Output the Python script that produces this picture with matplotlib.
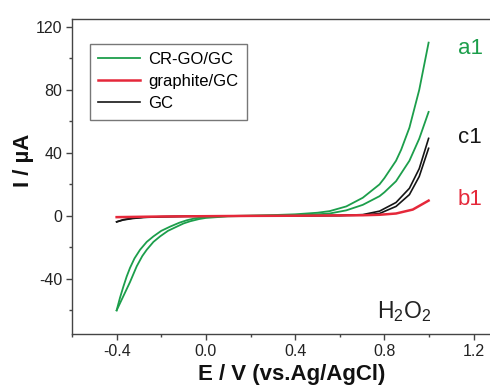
import matplotlib
matplotlib.use('Agg')
import matplotlib.pyplot as plt

plt.rcParams['font.family'] = ['Liberation Sans', 'DejaVu Sans']
plt.rcParams['mathtext.fontset'] = 'custom'
plt.rcParams['mathtext.rm'] = 'Liberation Sans'
plt.rcParams['mathtext.it'] = 'Liberation Sans:italic'
plt.rcParams['mathtext.bf'] = 'Liberation Sans:bold'

# CR-GO/GC, two sweeps (E in V, I in uA)
green_E1 = [-0.40, -0.385, -0.37, -0.355, -0.34, -0.32, -0.295, -0.265, -0.235, -0.20, -0.16,
            -0.12, -0.086, -0.05, 0.0, 0.1, 0.2, 0.3, 0.4, 0.5, 0.554, 0.629, 0.703, 0.778,
            0.80, 0.852, 0.875, 0.912, 0.956, 0.998]
green_I1 = [-60.0, -52.0, -45.0, -38.5, -33.0, -27.0, -21.5, -16.5, -13.0, -9.5, -6.8,
            -4.4, -2.8, -1.6, -0.7, -0.1, 0.2, 0.5, 1.0, 2.0, 3.0, 6.0, 11.5, 20.0,
            24.0, 35.0, 42.0, 56.0, 80.0, 110.0]
green_E2 = [-0.40, -0.37, -0.34, -0.31, -0.285, -0.265, -0.235, -0.205, -0.17, -0.13, -0.10,
            -0.07, -0.03, 0.0, 0.1, 0.2, 0.3, 0.4, 0.5, 0.554, 0.629, 0.703, 0.778, 0.80,
            0.852, 0.912, 0.956, 0.998]
green_I2 = [-60.0, -51.0, -42.0, -32.0, -25.5, -21.5, -16.5, -13.0, -9.5, -6.8, -4.8,
            -3.4, -2.0, -1.3, -0.3, 0.0, 0.2, 0.4, 1.0, 1.5, 3.5, 7.0, 12.5, 15.0,
            22.0, 35.0, 49.0, 66.0]

# GC, two sweeps
black_E = [-0.40, -0.37, -0.33, -0.28, -0.2, -0.1, 0.0, 0.2, 0.4, 0.6, 0.703, 0.778, 0.852,
           0.912, 0.956, 0.998]
black_I1 = [-3.8, -2.6, -1.7, -1.0, -0.6, -0.3, -0.2, 0.0, 0.1, 0.3, 0.8, 3.0, 8.5,
            17.5, 30.0, 49.2]
black_I2 = [-3.8, -2.4, -1.5, -0.9, -0.5, -0.3, -0.2, 0.0, 0.1, 0.2, 0.5, 1.5, 6.0,
            13.5, 25.0, 42.9]

# graphite/GC
red_E = [-0.40, -0.3, -0.2, 0.0, 0.2, 0.4, 0.6, 0.703, 0.778, 0.852, 0.927, 0.998]
red_I = [-0.8, -0.6, -0.4, -0.2, 0.0, 0.1, 0.3, 0.4, 0.7, 1.5, 4.0, 9.7]

labels = ['CR-GO/GC', 'graphite/GC', 'GC']
green = '#1c9e4b'
red = '#e5283a'
black = '#151515'

fig = plt.figure(figsize=(4.9, 3.85), dpi=100)
ax = fig.add_axes([72 / 490, 51 / 385, 424 / 490, 315 / 385])

ax.plot(black_E, black_I1, color=black, lw=1.2)
lc, = ax.plot(black_E, black_I2, color=black, lw=1.2)
la, = ax.plot(green_E1, green_I1, color=green, lw=1.3)
ax.plot(green_E2, green_I2, color=green, lw=1.3)
lb, = ax.plot(red_E, red_I, color=red, lw=1.8)

ax.set_xlim(-0.6, 1.3)
ax.set_ylim(-75, 125)
ax.set_xticks([-0.4, 0.0, 0.4, 0.8, 1.2])
ax.set_xticks([-0.6, -0.2, 0.2, 0.6, 1.0], minor=True)
ax.set_yticks([-40, 0, 40, 80, 120])
ax.set_yticks([-60, -20, 20, 60, 100], minor=True)
ax.set_xticklabels(['-0.4', '0.0', '0.4', '0.8', '1.2'])
ax.set_yticklabels(['-40', '0', '40', '80', '120'])

for s in ['left', 'bottom', 'top', 'right']:
    ax.spines[s].set_color('#444444')
    ax.spines[s].set_linewidth(1.0)
ax.tick_params(axis='both', which='major', direction='out', length=4, width=1,
               color='#444444', labelsize=11.5, labelcolor='#222222', pad=3)
ax.tick_params(axis='both', which='minor', direction='out', length=2.5, width=1,
               color='#444444')
ax.tick_params(top=False, right=False, which='both')

ax.set_xlabel('E / V (vs.Ag/AgCl)', fontsize=16, fontweight='bold', color='#111111')
ax.set_ylabel('I / µA', fontsize=16, fontweight='bold', color='#111111')
ax.xaxis.set_label_coords(0.519, -0.094)
ax.yaxis.set_label_coords(-0.089, 0.55)

leg = ax.legend([la, lb, lc], labels, loc='upper left', bbox_to_anchor=(0.042, 0.921),
                borderaxespad=0, fontsize=12, frameon=True, fancybox=False,
                handlelength=2.5, handletextpad=0.5, labelspacing=0.42, borderpad=0.5)
leg.get_frame().set_edgecolor('#555555')
leg.get_frame().set_linewidth(1.0)

ax.text(1.128, 106.5, 'a1', color=green, fontsize=16, va='center', ha='left')
ax.text(1.128, 50, 'c1', color=black, fontsize=16, va='center', ha='left')
ax.text(1.128, 10.5, 'b1', color=red, fontsize=16, va='center', ha='left')
ax.text(0.765, -64.6, 'H$_2$O$_2$', color='#222222', fontsize=16.5, va='baseline', ha='left')

fig.savefig('out.png', dpi=100)
